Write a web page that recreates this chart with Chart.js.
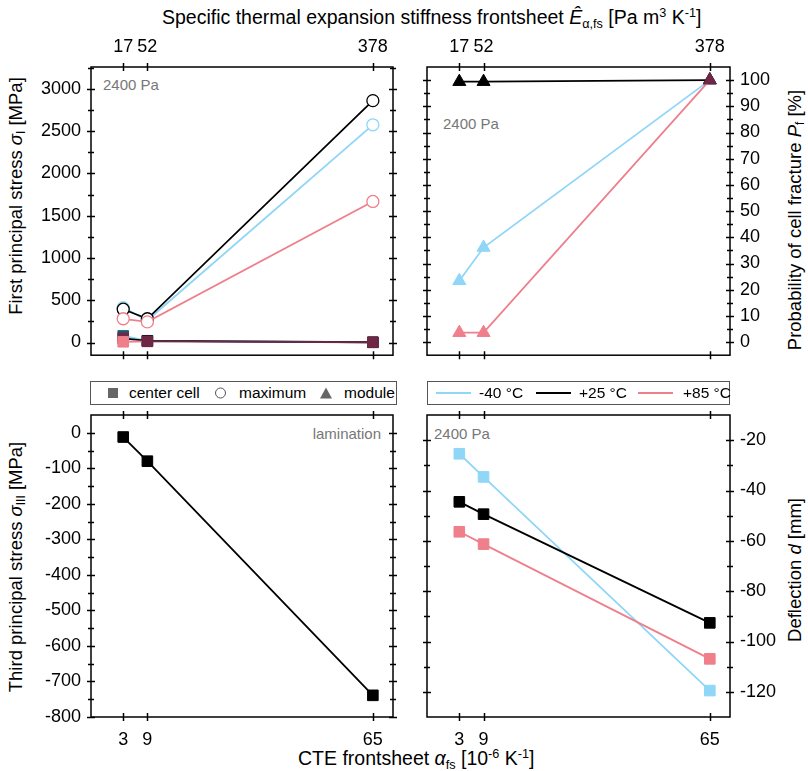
<!DOCTYPE html>
<html>
<head>
<meta charset="utf-8">
<script src="https://cdn.jsdelivr.net/npm/chart.js@4.4.0/dist/chart.umd.min.js"></script>
<style>
    html, body { margin: 0; padding: 0; background: #fff; }
    #page { position: relative; width: 808px; height: 771px; overflow: hidden; font-family: 'Liberation Sans', Arial, sans-serif; color: #000; }
    canvas { position: absolute; }
    .txt { position: absolute; white-space: nowrap; font-size: 19.5px; line-height: 1; }
    .vert { font-size: 18.5px; transform: translate(-50%, -50%) rotate(-90deg); }
    .note { position: absolute; white-space: nowrap; font-size: 15px; line-height: 1; color: #777; }
    .legend { position: absolute; top: 381px; height: 24px; border: 1px solid #555; box-sizing: border-box; background: #fff; font-size: 15.5px; z-index: 2; }
    .legend > * { position: absolute; top: 50%; transform: translateY(-50%); white-space: nowrap; }
    .sq { width: 10px; height: 10px; background: #666; }
    .ci { width: 11px; height: 11px; border: 1.2px solid #555; border-radius: 50%; box-sizing: border-box; }
    .tri { width: 0; height: 0; border-left: 6.5px solid transparent; border-right: 6.5px solid transparent; border-bottom: 11px solid #666; }
    .ln { width: 35px; height: 2px; }
    sub { font-size: 65%; vertical-align: -0.3em; line-height: 0; }
    sup { font-size: 65%; vertical-align: 0.55em; line-height: 0; }
</style>
</head>
<body>
<div id="page">
    <div class="txt" style="left:162px; top:8px;">Specific thermal expansion stiffness frontsheet <i>Ê</i><sub>α,fs</sub> [Pa m<sup>3</sup> K<sup>-1</sup>]</div>
    <div class="txt" style="left:298px; top:749px;">CTE frontsheet <i>α</i><sub>fs</sub> [10<sup>-6</sup> K<sup>-1</sup>]</div>
    <div class="txt vert" style="left:16px; top:196px;">First principal stress <i>σ</i><sub>I</sub> [MPa]</div>
    <div class="txt vert" style="left:16px; top:567px;">Third principal stress <i>σ</i><sub>III</sub> [MPa]</div>
    <div class="txt vert" style="left:795px; top:220px;">Probability of cell fracture <i>P</i><sub>f</sub> [%]</div>
    <div class="txt vert" style="left:795px; top:570px;">Deflection <i>d</i> [mm]</div>

    <div class="note" style="left:103px; top:77px;">2400 Pa</div>
    <div class="note" style="left:443px; top:116px;">2400 Pa</div>
    <div class="note" style="left:300px; width:81px; text-align:right; top:426px;">lamination</div>
    <div class="note" style="left:434px; top:426px;">2400 Pa</div>

    <div class="legend" style="left:90px; width:307px;">
        <span class="sq" style="left:17px;"></span><span style="left:38px;">center cell</span>
        <span class="ci" style="left:124px;"></span><span style="left:148px;">maximum</span>
        <span class="tri" style="left:229px;"></span><span style="left:253px;">module</span>
    </div>
    <div class="legend" style="left:427px; width:303px;">
        <span class="ln" style="left:8px; background:#8fd6f7;"></span><span style="left:51px;">-40 °C</span>
        <span class="ln" style="left:108px; background:#000;"></span><span style="left:151px;">+25 °C</span>
        <span class="ln" style="left:210px; background:#ee7f8b;"></span><span style="left:255px;">+85 °C</span>
    </div>
</div>
<script>
// CTE frontsheet (10^-6 K^-1) and matching specific stiffness labels
const cteFrontsheet = [3, 9, 65];
const stiffnessLabels = ['17', '52', '378'];

// First principal stress, maximum (MPa)
const maxStressM40 = [413, 263, 2576];
const maxStressP25 = [394, 281, 2862];
const maxStressP85 = [281, 244, 1669];
// First principal stress, center cell (MPa)
const centerStressM40 = [78, 22, 3];
const centerStressP25 = [48, 20, 3];
const centerStressP85 = [9, 14, 3];
const stressTicks = [0, 500, 1000, 1500, 2000, 2500, 3000];

// Probability of cell fracture, module (%)
const fractureM40 = [23.4, 36.1, 100];
const fractureP25 = [99.4, 99.4, 100];
const fractureP85 = [3.6, 3.6, 100];
const fractureTicks = [0, 10, 20, 30, 40, 50, 60, 70, 80, 90, 100];

// Third principal stress, lamination (MPa)
const laminationStress = [-12, -80, -739];
const thirdStressTicks = [0, -100, -200, -300, -400, -500, -600, -700, -800];

// Deflection (mm)
const deflectionM40 = [-25.4, -34.6, -119.5];
const deflectionP25 = [-44.5, -49.4, -92.6];
const deflectionP85 = [-56.4, -61.3, -106.9];
const deflectionTicks = [-20, -40, -60, -80, -100, -120];

const BLUE = '#8fd6f7';
const BLACK = '#000000';
const PINK = '#ee7f8b';
const MAROON = '#6e2846';
const TEAL = '#1d5873';
const FONT = { family: "'Liberation Sans', Arial, sans-serif", size: 18 };

// Frame with ticks crossing every side, like the original plot
const frameTicks = {
    id: 'frameTicks',
    afterDraw(chart) {
        const { ctx, chartArea: a } = chart;
        const xs = chart.scales.x;
        const ys = chart.scales.y;
        ctx.save();
        ctx.strokeStyle = '#000';
        ctx.lineWidth = 1.5;
        ctx.strokeRect(a.left, a.top, a.right - a.left, a.bottom - a.top);
        ctx.beginPath();
        xs.ticks.forEach(t => {
            const px = Math.round(xs.getPixelForValue(t.value)) + 0.5;
            ctx.moveTo(px, a.top - 4); ctx.lineTo(px, a.top + 4);
            ctx.moveTo(px, a.bottom - 4); ctx.lineTo(px, a.bottom + 4);
        });
        const step = Math.abs(ys.ticks[1].value - ys.ticks[0].value);
        const minor = [];
        ys.ticks.forEach(t => {
            [t.value - step / 2, t.value + step / 2].forEach(v => {
                if (v > ys.min && v < ys.max && !minor.includes(v)) minor.push(v);
            });
        });
        const mark = (v, len) => {
            const py = Math.round(ys.getPixelForValue(v)) + 0.5;
            ctx.moveTo(a.left - len, py); ctx.lineTo(a.left + len, py);
            ctx.moveTo(a.right - len, py); ctx.lineTo(a.right + len, py);
        };
        ys.ticks.forEach(t => mark(t.value, 4));
        minor.forEach(v => mark(v, 3));
        ctx.stroke();
        ctx.restore();
    }
};

function series(values, color, style, radius, extra) {
    return Object.assign({
        data: cteFrontsheet.map((x, i) => ({ x: x, y: values[i] })),
        borderColor: color,
        borderWidth: 1.8,
        pointStyle: style,
        pointRadius: radius,
        pointBackgroundColor: color,
        pointBorderColor: color,
        pointBorderWidth: 1,
        tension: 0
    }, extra || {});
}

function makePanel(left, top, width, height, cfg) {
    const canvas = document.createElement('canvas');
    canvas.width = width;
    canvas.height = height;
    canvas.style.left = left + 'px';
    canvas.style.top = top + 'px';
    document.getElementById('page').appendChild(canvas);

    const xTop = cfg.xPos === 'top';
    return new Chart(canvas.getContext('2d'), {
        type: 'line',
        data: { datasets: cfg.datasets },
        options: {
            responsive: false,
            animation: false,
            devicePixelRatio: 1,
            layout: { padding: cfg.padding },
            plugins: { legend: { display: false }, tooltip: { enabled: false } },
            scales: {
                x: {
                    type: 'linear',
                    position: cfg.xPos,
                    min: -5,
                    max: 70,
                    afterBuildTicks: s => { s.ticks = cteFrontsheet.map(v => ({ value: v })); },
                    afterFit: s => { s.height = cfg.xSize; },
                    ticks: {
                        autoSkip: false,
                        maxRotation: 0,
                        padding: xTop ? 9 : 12,
                        color: '#000',
                        font: FONT,
                        callback: (v, i) => xTop ? stiffnessLabels[i] : String(v)
                    },
                    grid: { display: false, drawTicks: false },
                    border: { display: false }
                },
                y: {
                    type: 'linear',
                    position: cfg.yPos,
                    min: cfg.yMin,
                    max: cfg.yMax,
                    afterBuildTicks: s => { s.ticks = cfg.yTicks.map(v => ({ value: v })); },
                    afterFit: s => { s.width = cfg.ySize; },
                    ticks: { padding: 10, color: '#000', font: FONT, callback: v => String(v) },
                    grid: { display: false, drawTicks: false },
                    border: { display: false }
                }
            }
        },
        plugins: [frameTicks]
    });
}

// Top left: first principal stress (dataset 0 is drawn on top)
makePanel(0, 0, 404, 376, {
    xPos: 'top', yPos: 'left', xSize: 67, ySize: 91,
    padding: { left: 0, right: 11, top: 0, bottom: 6 },
    yMin: -150, yMax: 3260, yTicks: stressTicks,
    datasets: [
        series(maxStressP85, PINK, 'circle', 6, { pointBackgroundColor: '#fff', pointBorderWidth: 1.3 }),
        series(maxStressP25, BLACK, 'circle', 6, { pointBackgroundColor: '#fff', pointBorderWidth: 1.3 }),
        series(maxStressM40, BLUE, 'circle', 6, { pointBackgroundColor: '#fff', pointBorderWidth: 1.3 }),
        series(centerStressP85, PINK, 'rect', 7.5, {
            pointBackgroundColor: [PINK, MAROON, MAROON],
            pointBorderColor: [PINK, MAROON, MAROON],
            segment: { borderColor: c => c.p0DataIndex === 1 ? MAROON : undefined }
        }),
        series(centerStressP25, BLACK, 'rect', 7.5, {
            pointBackgroundColor: [MAROON, BLACK, BLACK],
            pointBorderColor: [MAROON, BLACK, BLACK]
        }),
        series(centerStressM40, BLUE, 'rect', 7.5, {
            pointBackgroundColor: [TEAL, BLUE, BLUE],
            pointBorderColor: [TEAL, BLUE, BLUE]
        })
    ]
});

// Top right: probability of cell fracture
makePanel(404, 0, 404, 376, {
    xPos: 'top', yPos: 'right', xSize: 67, ySize: 78,
    padding: { left: 23, right: 0, top: 0, bottom: 6 },
    yMin: -5, yMax: 105, yTicks: fractureTicks,
    datasets: [
        series(fractureP85, PINK, 'triangle', 7.5, {
            pointBackgroundColor: [PINK, PINK, MAROON],
            pointBorderColor: [PINK, PINK, MAROON]
        }),
        series(fractureP25, BLACK, 'triangle', 7.5),
        series(fractureM40, BLUE, 'triangle', 7.5)
    ]
});

// Bottom left: third principal stress, lamination
makePanel(0, 376, 404, 395, {
    xPos: 'bottom', yPos: 'left', xSize: 54, ySize: 91,
    padding: { left: 0, right: 11, top: 39, bottom: 0 },
    yMin: -800, yMax: 50, yTicks: thirdStressTicks,
    datasets: [
        series(laminationStress, BLACK, 'rect', 7.5)
    ]
});

// Bottom right: deflection
makePanel(404, 376, 404, 395, {
    xPos: 'bottom', yPos: 'right', xSize: 54, ySize: 78,
    padding: { left: 23, right: 0, top: 39, bottom: 0 },
    yMin: -130, yMax: -10, yTicks: deflectionTicks,
    datasets: [
        series(deflectionP85, PINK, 'rect', 7.5),
        series(deflectionP25, BLACK, 'rect', 7.5),
        series(deflectionM40, BLUE, 'rect', 7.5)
    ]
});
</script>
</body>
</html>
